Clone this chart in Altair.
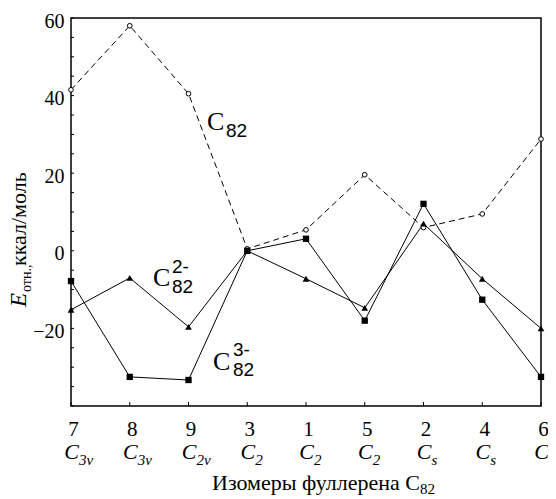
import altair as alt
import pandas as pd

# ---- data ----
isomers = ["7", "8", "9", "3", "1", "5", "2", "4", "6"]
sym_sub = ["3v", "3v", "2v", "2", "2", "2", "s", "s", "s"]
c82 = [41.5, 58.0, 40.5, 0.5, 5.4, 19.6, 6.0, 9.5, 28.8]
c82_2m = [-15.2, -7.0, -19.6, 0.0, -7.2, -14.7, 7.0, -7.2, -20.0]
c82_3m = [-7.8, -32.5, -33.3, 0.0, 3.1, -18.0, 12.1, -12.6, -32.5]
y_label_values = [-20, 0, 20, 40, 60]
y_tick_values = [-40, -35, -30, -25, -20, -15, -10, -5, 0, 5, 10, 15, 20,
                 25, 30, 35, 40, 45, 50, 55, 60]

W, H = 470, 388
SERIF = "Liberation Serif"
SANS = "Liberation Sans"

df0 = pd.DataFrame({"isomer": isomers, "value": c82})
df2 = pd.DataFrame({"isomer": isomers, "value": c82_2m})
df3 = pd.DataFrame({"isomer": isomers, "value": c82_3m})
dsym = pd.DataFrame({"isomer": isomers, "sub": sym_sub})
dticks_y = pd.DataFrame({"value": y_tick_values})
dticks_x = pd.DataFrame({"isomer": isomers})

x_enc = alt.X(
    "isomer:N", sort=isomers,
    scale=alt.Scale(type="point", padding=0),
    axis=alt.Axis(title=None, ticks=False, domain=False, grid=False, labelAngle=0,
                  labelFont=SERIF, labelFontSize=21, labelColor="black",
                  labelPadding=12, labelFlush=False, labelOffset=2),
)
y_enc = alt.Y(
    "value:Q",
    scale=alt.Scale(domain=[-40, 60], nice=False, zero=False),
    axis=alt.Axis(title=None, values=y_label_values, ticks=False, domain=False,
                  grid=False, labelFont=SERIF, labelFontSize=20, labelColor="black",
                  labelPadding=7, labelOffset=3),
)

tick_y = alt.Chart(dticks_y).mark_rule(color="black", strokeWidth=1).encode(
    y=y_enc, x=alt.value(0), x2=alt.value(3))
tick_x = alt.Chart(dticks_x).mark_rule(color="black", strokeWidth=1).encode(
    x=x_enc, y=alt.value(H), y2=alt.value(H - 4))

line0 = alt.Chart(df0).mark_line(color="black", strokeWidth=1, strokeDash=[6, 4]).encode(
    x=x_enc, y=y_enc)
pts0 = alt.Chart(df0).mark_point(shape="circle", size=22, fill="white", stroke="black",
                                 strokeWidth=1, opacity=1, fillOpacity=1).encode(
    x=x_enc, y=y_enc)
line2 = alt.Chart(df2).mark_line(color="black", strokeWidth=1).encode(x=x_enc, y=y_enc)
pts2 = alt.Chart(df2).mark_point(shape="triangle-up", size=45, filled=True,
                                 color="black", opacity=1).encode(x=x_enc, y=y_enc)
line3 = alt.Chart(df3).mark_line(color="black", strokeWidth=1).encode(x=x_enc, y=y_enc)
pts3 = alt.Chart(df3).mark_square(size=40, color="black", opacity=1).encode(
    x=x_enc, y=y_enc)

# symmetry-group labels under the axis numbers
sym_c = alt.Chart(dsym).mark_text(text="C", font=SERIF, fontSize=22, fontStyle="italic",
                                  align="right", dx=8).encode(x=x_enc, y=alt.value(434))
sym_s = alt.Chart(dsym).mark_text(font=SERIF, fontSize=15, fontStyle="italic",
                                  align="left", dx=8).encode(
    x=x_enc, y=alt.value(442), text="sub:N")

one = pd.DataFrame({"k": [0]})


def txt(t, x, y, font=SERIF, size=20, italic=False, align="left", angle=None):
    kw = dict(text=t, font=font, fontSize=size, align=align)
    if angle is not None:
        kw["angle"] = angle
    if italic:
        kw["fontStyle"] = "italic"
    return alt.Chart(one).mark_text(**kw).encode(x=alt.value(x), y=alt.value(y))


annotations = [
    # curve labels
    txt("C", 136, 104, size=26), txt("82", 155, 113, font=SANS, size=19),
    txt("C", 82, 260, size=26), txt("2-", 101, 249, font=SANS, size=19),
    txt("82", 101, 269, font=SANS, size=19),
    txt("C", 142, 344, size=26), txt("3-", 162, 332, font=SANS, size=19),
    txt("82", 162, 352, font=SANS, size=19),
    # x title
    txt("Изомеры фуллерена C", 349, 465, size=22, align="right"),
    txt("82", 349, 471, size=15),
    # y title (rotated)
    txt("E", -52, 289, size=23, italic=True, angle=270),
    txt("отн.,", -44, 274, size=14, angle=270),
    txt(" ккал/моль", -52, 248, size=22, angle=270),
]

chart = alt.layer(
    tick_y, tick_x, line0, line2, line3, pts0, pts2, pts3, sym_c, sym_s, *annotations
).properties(
    width=W, height=H,
    padding={"left": 63, "top": 10, "right": 7, "bottom": 90},
    autosize=alt.AutoSizeParams(type="none"),
    background="white",
).configure_view(stroke="black", strokeWidth=1.5)

chart.save("out.html", embed_options={"renderer": "svg", "actions": False})
